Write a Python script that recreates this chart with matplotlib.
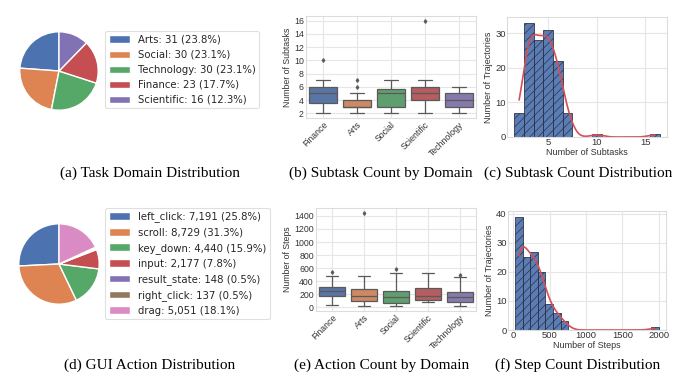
import numpy as np
import matplotlib
matplotlib.use("Agg")
import matplotlib.pyplot as plt
import seaborn as sns

sns.set_style("whitegrid")
plt.rcParams["font.family"] = ["Liberation Sans", "DejaVu Sans"]
plt.rcParams["hatch.linewidth"] = 0.5
plt.rcParams["hatch.color"] = "#2b2b3a"

# (a) task domains
domain_names = ["Arts", "Social", "Technology", "Finance", "Scientific"]
domain_counts = [31, 30, 30, 23, 16]

# (d) GUI actions
action_names = ["left_click", "scroll", "key_down", "input", "result_state", "right_click", "drag"]
action_counts = [7191, 8729, 4440, 2177, 148, 137, 5051]

# (b), (e) box plots: whisker low, q1, median, q3, whisker high, outliers
box_domains = ["Finance", "Arts", "Social", "Scientific", "Technology"]
sub_lo = [2, 2, 2, 2, 2]
sub_q1 = [3.5, 3, 3, 4, 3]
sub_med = [5, 3, 5, 5, 4]
sub_q3 = [6, 4, 5.75, 6, 5]
sub_hi = [7, 5, 7, 7, 6]
sub_out = [[10], [6, 7], [], [16], []]

step_lo = [30, 15, 15, 80, 15]
step_q1 = [170, 90, 65, 105, 75]
step_med = [245, 170, 160, 180, 160]
step_q3 = [310, 275, 255, 300, 235]
step_hi = [475, 475, 530, 530, 460]
step_out = [[540], [1450], [590], [], [500]]

# (c) subtask histogram
subtask_values = [2, 3, 4, 5, 6, 7, 10, 16]
subtask_freq = [7, 33, 28, 31, 22, 7, 1, 1]

# (f) step histogram (19 bins between 25 and 2000)
step_min, step_max, step_nbins = 25, 2000, 19
step_freq = [39, 25, 27, 20, 9, 6, 3, 0, 0, 0, 0, 0, 0, 0, 0, 0, 0, 0, 1]

pal = sns.color_palette("deep")
W, H = 690, 380
fig = plt.figure(figsize=(W / 100, H / 100), dpi=100)


def px_axes(left, top, right, bottom):
    return fig.add_axes([left / W, 1 - bottom / H, (right - left) / W, (bottom - top) / H])


def kde(values, weights, grid):
    data = np.repeat(np.asarray(values, float), weights)
    bw = data.std(ddof=1) * len(data) ** (-0.2)
    z = (grid[:, None] - data[None, :]) / bw
    return np.exp(-0.5 * z ** 2).sum(axis=1) / (len(data) * bw * np.sqrt(2 * np.pi))


def style_axes(ax):
    ax.grid(True, color="#e6e6e6", linewidth=0.8)
    ax.set_axisbelow(True)
    ax.tick_params(length=0)
    for s in ax.spines.values():
        s.set_color("#dcdcdc")
        s.set_linewidth(0.8)
    for lab in ax.get_xticklabels() + ax.get_yticklabels():
        lab.set_color("#333333")


def draw_pie(box, names, counts, legend_top):
    ax = px_axes(*box)
    total = sum(counts)
    wedges, _ = ax.pie(counts, colors=pal[:len(counts)], startangle=90,
                       wedgeprops=dict(edgecolor="white", linewidth=1))
    ax.set_xlim(-1.02, 1.02)
    ax.set_ylim(-1.02, 1.02)
    labels = [f"{n}: {c:,} ({c / total * 100:.1f}%)" for n, c in zip(names, counts)]
    leg = ax.legend(wedges, labels, loc="upper left", bbox_to_anchor=(105 / W, 1 - legend_top / H),
                    bbox_transform=fig.transFigure, borderaxespad=0,
                    prop=dict(family="DejaVu Sans", size=7.3),
                    labelspacing=0.5, frameon=True, fancybox=True, borderpad=0.35,
                    handlelength=2.1, handletextpad=0.8)
    leg.get_frame().set_edgecolor("#d8d8d8")
    leg.get_frame().set_linewidth(0.8)
    for t in leg.get_texts():
        t.set_color("#262626")


def draw_box(box, lo, q1, med, q3, hi, out, ylabel, yticks):
    ax = px_axes(*box)
    stats = [dict(whislo=a, q1=b, med=c, q3=d, whishi=e, fliers=f)
             for a, b, c, d, e, f in zip(lo, q1, med, q3, hi, out)]
    gray = "#5a5a5a"
    res = ax.bxp(stats, positions=range(len(stats)), widths=0.8, patch_artist=True,
                 capwidths=0.4,
                 boxprops=dict(edgecolor=gray, linewidth=0.9),
                 whiskerprops=dict(color=gray, linewidth=0.9),
                 capprops=dict(color=gray, linewidth=0.9),
                 medianprops=dict(color=gray, linewidth=0.9),
                 flierprops=dict(marker="d", markersize=1.8, markerfacecolor=gray,
                                 markeredgecolor=gray))
    for patch, c in zip(res["boxes"], pal):
        patch.set_facecolor(sns.desaturate(c, 0.75))
    ax.set_xticks(range(len(box_domains)))
    ax.set_xticklabels(box_domains, rotation=45, ha="right", rotation_mode="anchor", fontsize=6.3)
    ax.set_yticks(yticks)
    ax.tick_params(axis="y", labelsize=6.3, pad=1.5)
    ax.tick_params(axis="x", pad=1.5)
    ax.set_xlim(-0.5, len(stats) - 0.5)
    ax.set_ylabel(ylabel, fontsize=6.3, labelpad=1.5, color="#333333")
    style_axes(ax)


def draw_hist(box, centers, freq, edges, xlabel, xticks, yticks):
    ax = px_axes(*box)
    ax.hist(centers, bins=edges, weights=freq, color=pal[0], alpha=0.92,
            edgecolor="#2b2b3a", linewidth=0.6, hatch="////")
    width = edges[1] - edges[0]
    used = [c for c, f in zip(centers, freq) if f]
    grid = np.linspace(min(used), max(used), 300)
    ax.plot(grid, kde(centers, freq, grid) * sum(freq) * width, color="#d1505a", linewidth=1.2)
    ax.set_xticks(xticks)
    ax.set_yticks(yticks)
    ax.tick_params(labelsize=6.8, pad=1)
    ax.set_xlabel(xlabel, fontsize=6.5, labelpad=0.5, color="#333333")
    ax.set_ylabel("Number of Trajectories", fontsize=6.5, labelpad=1.5, color="#333333")
    style_axes(ax)
    return ax


# top row
draw_pie((19, 31, 99, 111), domain_names, domain_counts, 31)
draw_box((306, 16, 476, 118), sub_lo, sub_q1, sub_med, sub_q3, sub_hi, sub_out,
         "Number of Subtasks", range(2, 17, 2))
sub_edges = np.arange(min(subtask_values) - 0.5, max(subtask_values) + 1.5, 1)
sub_centers = (sub_edges[:-1] + sub_edges[1:]) / 2
sub_full = [subtask_freq[subtask_values.index(v)] if v in subtask_values else 0 for v in sub_centers]
draw_hist((507, 17, 667, 137), sub_centers, sub_full, sub_edges,
          "Number of Subtasks", [5, 10, 15], [0, 10, 20, 30])

# bottom row
draw_pie((18, 223, 100, 305), action_names, action_counts, 208)
draw_box((316, 208, 476, 311), step_lo, step_q1, step_med, step_q3, step_hi, step_out,
         "Number of Steps", range(0, 1401, 200))
step_edges = np.linspace(step_min, step_max, step_nbins + 1)
step_centers = (step_edges[:-1] + step_edges[1:]) / 2
draw_hist((508, 211, 666, 330), step_centers, step_freq, step_edges,
          "Number of Steps", [0, 500, 1000, 1500, 2000], [0, 10, 20, 30, 40])

captions = ["(a) Task Domain Distribution", "(b) Subtask Count by Domain",
            "(c) Subtask Count Distribution", "(d) GUI Action Distribution",
            "(e) Action Count by Domain", "(f) Step Count Distribution"]
cap_x = [150, 381, 578, 150, 382, 578]
cap_y = [173, 173, 173, 365, 365, 365]
for t, x, y in zip(captions, cap_x, cap_y):
    fig.text(x / W, 1 - y / H, t, ha="center", va="center",
             family="Liberation Serif", fontsize=11, color="black")

fig.savefig("out.png", dpi=100)
